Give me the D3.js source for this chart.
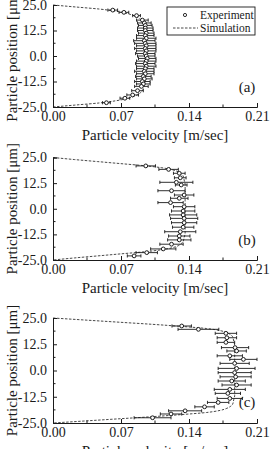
<!DOCTYPE html>
<html><head><meta charset="utf-8">
<script src="https://cdn.jsdelivr.net/npm/d3@7"></script>
<style>
body{margin:0;background:#fff;overflow:hidden}
svg{display:block}
text{font-family:"Liberation Serif","Times New Roman",serif;fill:#1a1a1a}
</style></head><body>
<script>
// ---------- data ----------
const xTicks=[0,0.07,0.14,0.21];
const xTickLabels=["0.00","0.07","0.14","0.21"];
const xMinor=[0.035,0.105,0.175];
const yTicks=[25,12.5,0,-12.5,-25];
const yTickLabels=["25.0","12.5","0.0","-12.5","-25.0"];
const yMinor=[18.75,6.25,-6.25,-18.75];
const panelLabels=["(a)","(b)","(c)"];
const xTitle="Particle velocity [m/sec]";
const yTitle="Particle position [\u03bcm]";
const legendLabels=["Experiment","Simulation"];

const simPos=[25,24,23,22,21,20,19,18,17,16,14,12,8,4,0,-4,-8,-12,-14,-16,-17,-18,-19,-20,-21,-22,-23,-24,-25];
const simA=[0,0.024,0.048,0.064,0.075,0.082,0.087,0.090,0.092,0.093,0.094,0.095,0.0955,0.096,0.096,0.096,0.0955,0.095,0.094,0.093,0.092,0.090,0.087,0.082,0.075,0.064,0.048,0.024,0];
const simB=[0,0.022,0.046,0.070,0.094,0.112,0.123,0.129,0.132,0.134,0.135,0.136,0.136,0.136,0.136,0.136,0.136,0.136,0.135,0.134,0.132,0.129,0.123,0.112,0.094,0.070,0.046,0.022,0];
const simC=[0,0.034,0.068,0.102,0.132,0.158,0.172,0.179,0.183,0.185,0.186,0.187,0.187,0.187,0.187,0.187,0.187,0.187,0.186,0.185,0.183,0.179,0.172,0.158,0.132,0.102,0.068,0.034,0];

const expA_pos=[22.5,21.4,19.8,17.6,16.2,15.0,13.7,12.5,11.2,10.0,8.7,7.5,6.2,5.0,3.7,2.5,1.2,0.0,-1.2,-2.5,-3.7,-5.0,-6.2,-7.5,-8.7,-10.0,-11.2,-12.5,-13.7,-14.9,-17.0,-19.1,-20.7,-22.9];
const expA_vel=[0.0615,0.073,0.086,0.092,0.094,0.095,0.095,0.095,0.096,0.095,0.096,0.094,0.095,0.096,0.095,0.096,0.095,0.096,0.097,0.096,0.095,0.096,0.095,0.094,0.095,0.093,0.094,0.092,0.093,0.091,0.087,0.082,0.074,0.055];
const expA_err=[0.005,0.005,0.004,0.006,0.007,0.007,0.008,0.008,0.008,0.009,0.010,0.011,0.011,0.010,0.011,0.010,0.010,0.009,0.009,0.010,0.010,0.010,0.009,0.010,0.009,0.008,0.008,0.008,0.007,0.007,0.006,0.006,0.005,0.004];

const expB_pos=[20.9,19.2,17.3,15.1,12.9,11.6,8.8,6.7,5.1,3.0,1.0,-1.1,-3.0,-4.7,-6.8,-9.0,-11.2,-13.3,-15.2,-17.3,-19.6,-21.4,-23.0];
const expB_vel=[0.0955,0.119,0.130,0.131,0.127,0.132,0.122,0.135,0.130,0.121,0.135,0.134,0.134,0.135,0.135,0.134,0.131,0.130,0.130,0.122,0.1135,0.0965,0.0835];
const expB_err=[0.010,0.010,0.006,0.006,0.017,0.006,0.014,0.010,0.009,0.013,0.011,0.012,0.014,0.014,0.013,0.011,0.016,0.011,0.012,0.012,0.013,0.011,0.007];

const expC_pos=[21.2,19.6,17.7,15.6,13.4,10.9,9.3,7.0,5.3,3.4,1.0,-1.0,-3.0,-5.0,-6.9,-9.0,-10.9,-13.3,-15.2,-17.3,-19.2,-20.7,-22.5];
const expC_vel=[0.1325,0.1497,0.178,0.179,0.178,0.1874,0.189,0.182,0.196,0.187,0.189,0.187,0.188,0.184,0.189,0.182,0.180,0.182,0.170,0.156,0.136,0.1215,0.1025];
const expC_err=[0.010,0.021,0.011,0.010,0.009,0.014,0.010,0.013,0.014,0.015,0.019,0.017,0.016,0.014,0.015,0.016,0.013,0.013,0.011,0.010,0.017,0.011,0.019];

const panels=[
 {label:panelLabels[0],sim:simA,pos:expA_pos,vel:expA_vel,err:expA_err,top:5,bottom:107,legend:true},
 {label:panelLabels[1],sim:simB,pos:expB_pos,vel:expB_vel,err:expB_err,top:157.5,bottom:260,legend:false},
 {label:panelLabels[2],sim:simC,pos:expC_pos,vel:expC_vel,err:expC_err,top:318,bottom:423,legend:false}
];

// ---------- drawing ----------
const W=273,H=449;
const svg=d3.select("body").append("svg").attr("width",W).attr("height",H);
const x=d3.scaleLinear().domain([0,0.21]).range([53,257]);
const ink="#1a1a1a";

panels.forEach(p=>{
  const y=d3.scaleLinear().domain([-25,25]).range([p.bottom,p.top]);
  const g=svg.append("g");

  // simulation curve
  const line=d3.line().x(d=>x(d[0])).y(d=>y(d[1])).curve(d3.curveMonotoneY);
  g.append("path").datum(p.sim.map((v,i)=>[v,simPos[i]]))
    .attr("d",line).attr("fill","none").attr("stroke","#333")
    .attr("stroke-width",0.9).attr("stroke-dasharray","2.5,1.5");

  // error bars
  const eb=g.append("g").attr("stroke",ink).attr("stroke-width",0.9);
  p.pos.forEach((yy,i)=>{
    const v=p.vel[i],e=p.err[i],cy=y(yy);
    eb.append("line").attr("x1",x(v-e)).attr("x2",x(v+e)).attr("y1",cy).attr("y2",cy);
    eb.append("line").attr("x1",x(v-e)).attr("x2",x(v-e)).attr("y1",cy-1.6).attr("y2",cy+1.6);
    eb.append("line").attr("x1",x(v+e)).attr("x2",x(v+e)).attr("y1",cy-1.6).attr("y2",cy+1.6);
  });
  g.append("g").selectAll("circle").data(p.pos).join("circle")
    .attr("cx",(d,i)=>x(p.vel[i])).attr("cy",d=>y(d)).attr("r",1.9)
    .attr("fill","#fff").attr("stroke",ink).attr("stroke-width",1);

  // axes
  const xa=g.append("g").attr("transform",`translate(0,${p.bottom})`)
    .call(d3.axisBottom(x).tickValues(xTicks).tickSize(-4).tickPadding(4)
      .tickFormat((d,i)=>xTickLabels[i]));
  xa.select(".domain").attr("stroke",ink).attr("stroke-width",1);
  xa.selectAll(".tick line").attr("stroke",ink);
  xa.selectAll("text").attr("font-size",14)
    .attr("font-family","'Liberation Serif',serif").attr("fill",ink);
  xMinor.forEach(m=>g.append("line").attr("x1",x(m)).attr("x2",x(m))
    .attr("y1",p.bottom).attr("y2",p.bottom-2.5).attr("stroke",ink));

  const ya=g.append("g").attr("transform","translate(53,0)")
    .call(d3.axisLeft(y).tickValues(yTicks).tickSize(-4).tickPadding(6)
      .tickFormat((d,i)=>yTickLabels[i]));
  ya.select(".domain").attr("stroke",ink).attr("stroke-width",1);
  ya.selectAll(".tick line").attr("stroke",ink);
  ya.selectAll("text").attr("font-size",14)
    .attr("font-family","'Liberation Serif',serif").attr("fill",ink);
  yMinor.forEach(m=>g.append("line").attr("x1",53).attr("x2",55.5)
    .attr("y1",y(m)).attr("y2",y(m)).attr("stroke",ink));

  // titles
  g.append("text").attr("x",155).attr("y",p.bottom+33).attr("text-anchor","middle")
    .attr("font-size",15).text(xTitle);
  g.append("text").attr("transform",`translate(17,${(p.top+p.bottom)/2}) rotate(-90)`)
    .attr("text-anchor","middle").attr("font-size",15).text(yTitle);

  // panel label
  g.append("text").attr("x",247).attr("y",y(-15)+5).attr("text-anchor","middle")
    .attr("font-size",15).text(p.label);

  if(p.legend){
    const lg=g.append("g");
    lg.append("rect").attr("x",167).attr("y",7).attr("width",88).attr("height",28)
      .attr("fill","#fff").attr("stroke",ink).attr("stroke-width",0.9);
    lg.append("circle").attr("cx",185).attr("cy",15).attr("r",1.6)
      .attr("fill","#fff").attr("stroke",ink).attr("stroke-width",0.9);
    lg.append("line").attr("x1",173).attr("x2",198).attr("y1",28).attr("y2",28)
      .attr("stroke","#333").attr("stroke-width",0.9).attr("stroke-dasharray","2.5,1.5");
    lg.append("text").attr("x",200).attr("y",19).attr("font-size",11.5).text(legendLabels[0]);
    lg.append("text").attr("x",200).attr("y",32).attr("font-size",11.5).text(legendLabels[1]);
  }
});
</script>
</body></html>
